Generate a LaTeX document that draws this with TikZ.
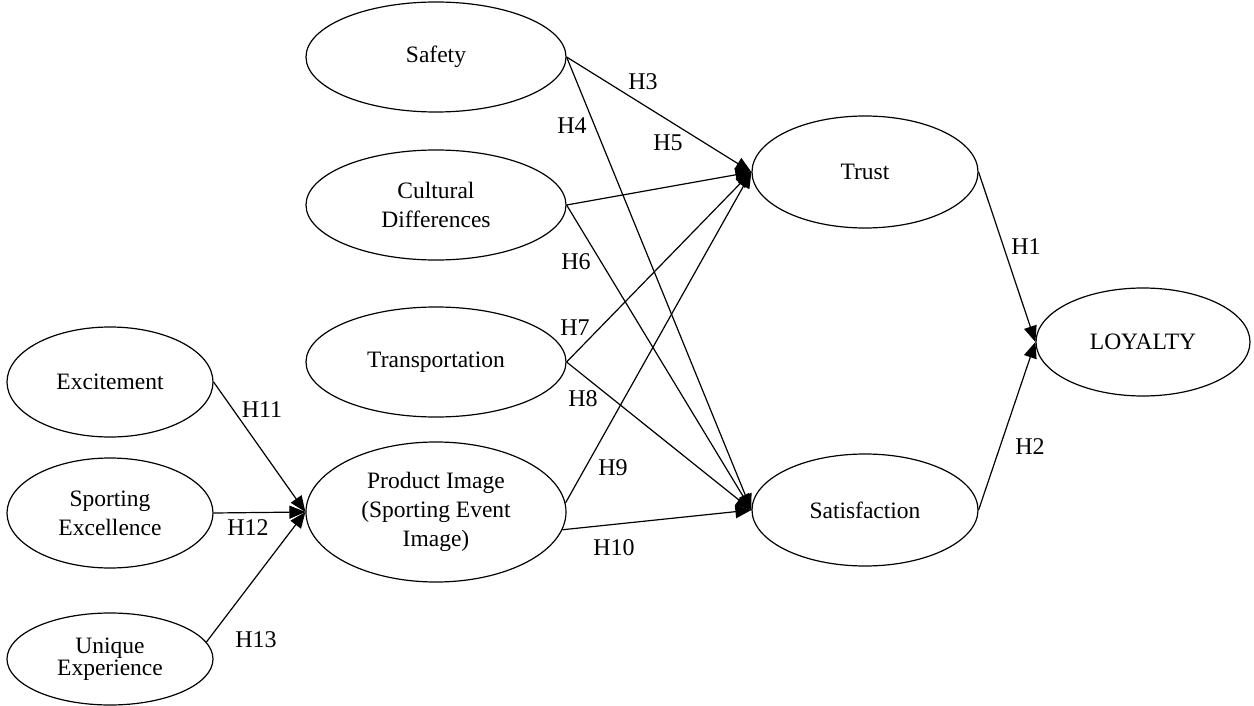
\documentclass[tikz,border=0pt]{standalone}
\usepackage{fontspec}
\setmainfont{Liberation Serif}
\usetikzlibrary{shapes.geometric,arrows.meta}
\begin{document}
\begin{tikzpicture}[x=1pt,y=-1pt,
  construct/.style={draw, ellipse, line width=1.2pt, minimum width=260pt,
    minimum height=110pt, inner sep=0pt, align=center,
    font=\fontsize{23.5}{29}\selectfont},
  small/.style={minimum width=206pt},
  outcome/.style={minimum width=226pt, minimum height=112pt},
  link/.style={line width=1.2pt, -{Triangle[length=16pt,width=13pt]}},
  hyp/.style={font=\fontsize{24}{28}\selectfont, inner sep=0pt}]
\useasboundingbox (0,0) rectangle (1254,706);

% exogenous constructs
\node[construct] (safety)    at (436,57)  {Safety};
\node[construct] (cultural)  at (436,205) {Cultural\\Differences};
\node[construct] (transport) at (436,362) {Transportation};
\node[construct, minimum height=140pt] (product) at (436,512)
  {Product Image\\(Sporting Event\\Image)};

% image antecedents
\node[construct, small] (excite)   at (110,382) {Excitement};
\node[construct, small] (sporting) at (110,513) {Sporting\\Excellence};
\node[construct, small, minimum height=92pt, font=\fontsize{23.5}{18}\selectfont]
  (unique) at (110,659) {Unique\\Experience};

% outcomes
\node[construct, outcome] (trust) at (865,172) {Trust};
\node[construct, outcome] (satis) at (865,510) {Satisfaction};
\node[construct, minimum width=214pt, minimum height=108pt] (loyalty) at (1143,342) {LOYALTY};

% hypothesised paths
\draw[link] (safety.east)    -- (trust.west);
\draw[link] (safety.east)    -- (satis.west);
\draw[link] (cultural.east)  -- (trust.west);
\draw[link] (cultural.east)  -- (satis.west);
\draw[link] (transport.east) -- (trust.west);
\draw[link] (transport.east) -- (satis.west);
\draw[link] (product.4)      -- (trust.west);
\draw[link] (product.-8)     -- (satis.west);
\draw[link] (trust.east)     -- (loyalty.west);
\draw[link] (satis.east)     -- (loyalty.west);
\draw[link] (excite.east)    -- (product.west);
\draw[link] (sporting.east)  -- (product.west);
\draw[link] (unique.10)      -- (product.west);

% path labels
\node[hyp] (h1)  at (1026,247) {H1};
\node[hyp] (h2)  at (1030,447) {H2};
\node[hyp] (h3)  at (643,82)   {H3};
\node[hyp] (h4)  at (572,126)  {H4};
\node[hyp] (h5)  at (668,143)  {H5};
\node[hyp] (h6)  at (576,262)  {H6};
\node[hyp] (h7)  at (575,328)  {H7};
\node[hyp] (h8)  at (583,399)  {H8};
\node[hyp] (h9)  at (613,468)  {H9};
\node[hyp] (h10) at (614,548)  {H10};
\node[hyp] (h11) at (262,410)  {H11};
\node[hyp] (h12) at (248,528)  {H12};
\node[hyp] (h13) at (256,640)  {H13};
\end{tikzpicture}
\end{document}
